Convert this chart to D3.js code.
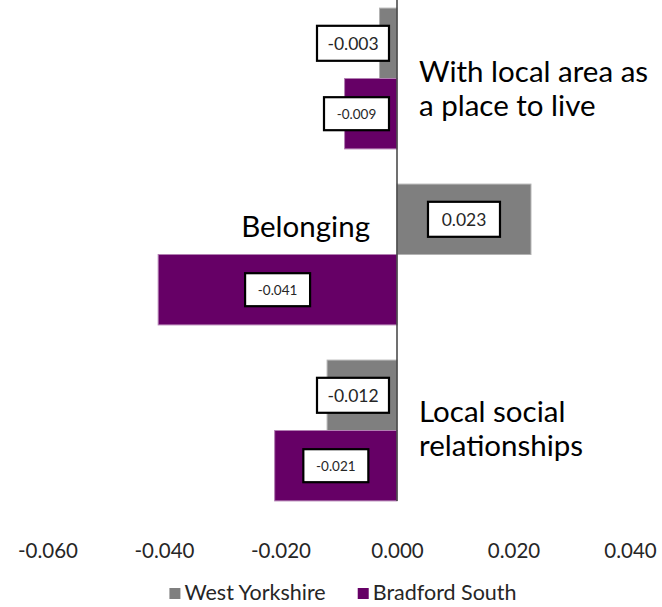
<!DOCTYPE html>
<html>
<head>
<meta charset="utf-8">
<script src="https://cdn.jsdelivr.net/npm/d3@7"></script>
<style>
  html, body { margin: 0; padding: 0; background: #fff; }
  svg { display: block; font-family: Lato, "Open Sans", sans-serif; }
</style>
</head>
<body>
<svg id="chart" width="662" height="607"></svg>
<script>
// ---- data ----
const categories = ["With local area as a place to live", "Belonging", "Local social relationships"];
const seriesNames = ["West Yorkshire", "Bradford South"];
const westYorkshire = [-0.003, 0.023, -0.012];
const bradfordSouth = [-0.009, -0.041, -0.021];
const tickValues = [-0.06, -0.04, -0.02, 0, 0.02, 0.04];
const tickLabels = ["-0.060", "-0.040", "-0.020", "0.000", "0.020", "0.040"];

// ---- styling / layout ----
const colors = ["#7f7f7f", "#660066"];
const strokes = ["#b3b3b3", "#b27fb2"];
const labelFont = [17.5, 13.5];
const labelBox = [[72, 35], [65, 33]];
const catLines = {
  "With local area as a place to live": ["With local area as", "a place to live"],
  "Belonging": ["Belonging"],
  "Local social relationships": ["Local social", "relationships"]
};
const catLayout = {
  "With local area as a place to live": { side: "right", dy: 74 },
  "Belonging": { side: "left", dy: 52.5 },
  "Local social relationships": { side: "right", dy: 62 }
};

const svg = d3.select("#chart");
const x = d3.scaleLinear().domain([-0.06, 0.04]).range([47.5, 630]);
const y = d3.scaleBand().domain(categories).range([-9.5, 518.5]).paddingInner(0.2).paddingOuter(0.1);
const ys = d3.scaleBand().domain(seriesNames).range([0, y.bandwidth()]);

const seriesValues = [westYorkshire, bradfordSouth];
const rows = [];
categories.forEach((c, i) => {
  seriesNames.forEach((s, j) => {
    rows.push({ cat: c, series: s, si: j, value: seriesValues[j][i] });
  });
});

// bars
svg.append("g").selectAll("rect").data(rows).join("rect")
  .attr("x", d => x(Math.min(0, d.value)))
  .attr("width", d => Math.abs(x(d.value) - x(0)))
  .attr("y", d => y(d.cat) + ys(d.series))
  .attr("height", ys.bandwidth())
  .attr("fill", d => colors[d.si])
  .attr("stroke", d => strokes[d.si])
  .attr("stroke-width", 1);

// zero axis line
svg.append("line")
  .attr("x1", x(0)).attr("x2", x(0))
  .attr("y1", 0)
  .attr("y2", y(categories[categories.length - 1]) + y.bandwidth())
  .attr("stroke", "#404040").attr("stroke-width", 1.5);

// data labels
const lab = svg.append("g").selectAll("g").data(rows).join("g")
  .attr("transform", d => {
    const w = labelBox[d.si][0];
    let cx = x(d.value / 2);
    if (d.value < 0 && cx + w / 2 > x(0) - 8) cx = x(0) - 8 - w / 2;
    if (d.value > 0 && cx - w / 2 < x(0) + 8) cx = x(0) + 8 + w / 2;
    const cy = y(d.cat) + ys(d.series) + ys.bandwidth() / 2;
    return `translate(${cx},${cy})`;
  });
lab.append("rect")
  .attr("x", d => -labelBox[d.si][0] / 2)
  .attr("y", d => -labelBox[d.si][1] / 2)
  .attr("width", d => labelBox[d.si][0])
  .attr("height", d => labelBox[d.si][1])
  .attr("fill", "#fff").attr("stroke", "#000").attr("stroke-width", 2.2);
lab.append("text")
  .attr("text-anchor", "middle")
  .attr("dy", "0.36em")
  .attr("font-size", d => labelFont[d.si])
  .attr("fill", "#262626")
  .text(d => d.value.toFixed(3));

// category labels
const cl = svg.append("g").selectAll("text").data(categories).join("text")
  .attr("font-size", 29.5)
  .attr("fill", "#000")
  .attr("text-anchor", d => catLayout[d].side === "right" ? "start" : "end")
  .attr("x", d => catLayout[d].side === "right" ? x(0) + 22 : x(0) - 27)
  .attr("y", d => y(d) + catLayout[d].dy);
cl.selectAll("tspan").data(d => catLines[d].map((t, i) => ({ t, i, d }))).join("tspan")
  .attr("x", o => catLayout[o.d].side === "right" ? x(0) + 22 : x(0) - 27)
  .attr("dy", o => o.i === 0 ? 0 : 34)
  .text(o => o.t);

// x axis (labels only)
const axis = d3.axisBottom(x).tickValues(tickValues).tickSize(0).tickPadding(0)
  .tickFormat((d, i) => tickLabels[i]);
const ag = svg.append("g").attr("transform", "translate(0,543)").call(axis);
ag.select(".domain").remove();
ag.selectAll("text").attr("font-size", 20.5).attr("fill", "#262626")
  .style("font-family", "Lato, 'Open Sans', sans-serif");

// legend
const legend = svg.append("g");
const items = legend.selectAll("g").data(seriesNames).join("g");
items.append("rect").attr("width", 11).attr("height", 11).attr("y", -12)
  .attr("fill", (d, i) => colors[i]);
items.append("text").attr("x", 15).attr("font-size", 21.5).attr("fill", "#262626").text(d => d);
const widths = [];
items.each(function () { widths.push(15 + this.querySelector("text").getComputedTextLength()); });
const gap = 32;
const total = d3.sum(widths) + gap * (widths.length - 1);
const startX = 343 - total / 2;
items.attr("transform", (d, i) => {
  const tx = startX + d3.sum(widths.slice(0, i)) + gap * i;
  return `translate(${tx},600)`;
});
</script>
</body>
</html>
